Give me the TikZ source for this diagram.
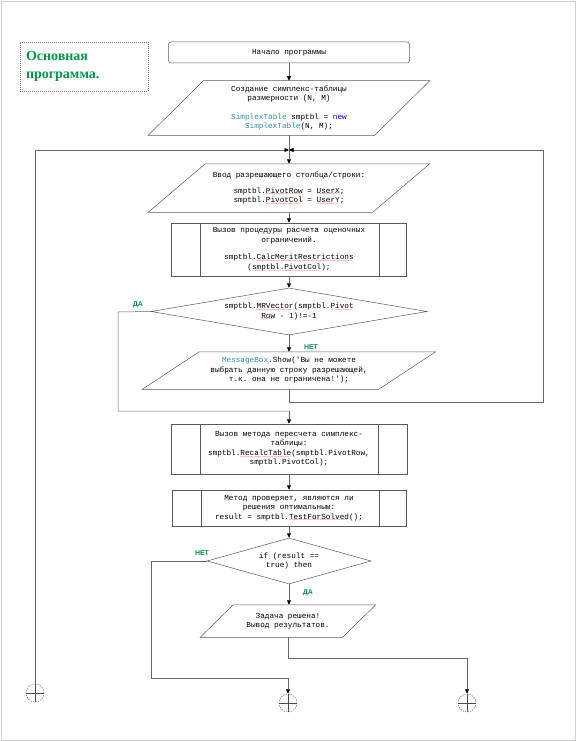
\documentclass[tikz,border=0pt]{standalone}
\usepackage{fontspec}
\setmonofont{Liberation Mono}
\newfontfamily\titlefont{Liberation Serif}
\newfontfamily\lblfont{Liberation Sans}
\usetikzlibrary{arrows.meta,shapes.geometric}
\definecolor{ttl}{RGB}{0,150,70}
\definecolor{typ}{RGB}{43,145,175}
\definecolor{kw}{RGB}{0,0,255}
\newcommand\code{\ttfamily\fontsize{7.7}{9.5}\selectfont}
\newsavebox\splbox
\newcommand\spl[1]{\sbox\splbox{#1}\rlap{\textcolor{red}{\raisebox{-2.6pt}[0pt][0pt]{\leaders\hbox{\lblfont\fontsize{4}{4}\selectfont\char126}\hskip\wd\splbox}}}\usebox\splbox}
\newcommand\slant[2]{\draw[shp] ([xshift=#2]#1.north west) -- ([xshift=#2]#1.north east) -- ([xshift=-#2]#1.south east) -- ([xshift=-#2]#1.south west) -- cycle;}

\begin{document}
\begin{tikzpicture}[x=1pt, y=-1pt, line width=0.5pt,
        >={Triangle[length=4.5pt,width=4pt,color=black]},
        shp/.style={draw=black!65},
        start/.style={shp, rounded corners=2.5pt, inner sep=0pt, font=\code, minimum width=241pt, minimum height=21pt},
        para/.style={inner sep=0pt, align=center, font=\code},
        proc/.style={shp, inner sep=0pt, align=center, font=\code},
        decide/.style={shp, diamond, inner sep=1pt, align=center, font=\code},
        conn/.style={draw=black!55, dash pattern=on 1.5pt off 1pt, circle, minimum size=18pt, inner sep=0pt},
        lbl/.style={text=ttl, font=\lblfont\bfseries\fontsize{7}{8}\selectfont, inner sep=0pt},
        wire/.style={draw=black!60}]
        \useasboundingbox (0,0) rectangle (576,741);
        \draw[black!18] (1,1) rectangle (575,740);
        \node[draw=black!55, dash pattern=on 1pt off 1pt, minimum width=128pt, minimum height=49pt, text width=116pt, align=left, inner xsep=6pt, text=ttl, font=\titlefont\bfseries\fontsize{14}{18.5}\selectfont] (title) at (84,66.5) {Основная\\программа.};
        \node[start] (start) at (289,52.5) {Начало программы};
        \node[para, minimum width=226pt, minimum height=54pt] (p1) at (289,108) {Создание симплекс-таблицы\\размерности (N, M)\\[9pt]\textcolor{typ}{SimplexTable} smptbl = \textcolor{kw}{new}\\\textcolor{typ}{SimplexTable}(N, M);};
        \slant{p1}{27.5pt}
        \coordinate (j1) at (289,150);
        \node[para, minimum width=224pt, minimum height=48pt] (p2) at (289,188) {Ввод разрешающего столбца/строки:\\[6pt]smptbl.\spl{PivotRow} = \spl{UserX};\\smptbl.\spl{PivotCol} = \spl{UserY};};
        \slant{p2}{28.5pt}
        \node[proc, minimum width=235pt, minimum height=53pt] (b1) at (289,249.5) {Вызов процедуры расчета оценочных\\ограничений.\\[8pt]smptbl.\spl{CalcMeritRestrictions}\\(\spl{smptbl.PivotCol});};
        \draw[shp] ([xshift=29pt]b1.north west) -- ([xshift=29pt]b1.south west);
        \draw[shp] ([xshift=-28pt]b1.north east) -- ([xshift=-28pt]b1.south east);
        \node[decide, aspect=5.9, minimum width=276pt, minimum height=47pt] (d1) at (289,311.5) {smptbl.\spl{MRVector}(smptbl.\spl{Pivot}\\\spl{Row} - 1)!=-1};
        \node[para, minimum width=236pt, minimum height=37pt] (p3) at (289,370.5) {\textcolor{typ}{MessageBox}.Show('Вы не можете\\выбрать данную строку разрешающей,\\т.к. она не ограничена!');};
        \slant{p3}{28.5pt}
        \coordinate (r1) at (543,402);
        \coordinate (l1) at (118,312);
        \coordinate (j2) at (289,411);
        \node[proc, minimum width=236pt, minimum height=50pt] (b2) at (289,449) {Вызов метода пересчета симплекс-\\таблицы:\\smptbl.\spl{RecalcTable}(smptbl.PivotRow,\\smptbl.PivotCol);};
        \draw[shp] ([xshift=29pt]b2.north west) -- ([xshift=29pt]b2.south west);
        \draw[shp] ([xshift=-29pt]b2.north east) -- ([xshift=-29pt]b2.south east);
        \node[proc, minimum width=234pt, minimum height=36pt] (b3) at (289,508) {Метод проверяет, являются ли\\решения оптимальным:\\result = smptbl.\spl{TestForSolved}();};
        \draw[shp] ([xshift=29pt]b3.north west) -- ([xshift=29pt]b3.south west);
        \draw[shp] ([xshift=-27pt]b3.north east) -- ([xshift=-27pt]b3.south east);
        \node[decide, aspect=3.57, minimum width=164pt, minimum height=46pt] (d2) at (289,561) {if (result ==\\true) then};
        \node[para, minimum width=142pt, minimum height=32pt] (p4) at (288,621) {Задача решена!\\Вывод результатов.};
        \slant{p4}{16.5pt}
        \coordinate (l2) at (151,561);
        \coordinate (k2) at (288,678);
        \coordinate (k3) at (467,658);
        \node[conn] (c1) at (35,693) {};
        \node[conn] (c2) at (288,703) {};
        \node[conn] (c3) at (467,703) {};
        \foreach \c in {c1,c2,c3}
            \draw[black!70] (\c.north) -- (\c.south) (\c.west) -- (\c.east);
        \node[lbl] (yes1) at (138,305) {ДА};
        \node[lbl] (no1) at (311,347) {НЕТ};
        \node[lbl] (no2) at (202,553) {НЕТ};
        \node[lbl] (yes2) at (308,593) {ДА};
        \draw[wire, ->] (start) -- (p1);
        \draw[wire, ->] (p1.south) -- (p2.north);
        \draw[wire, ->] (c1.north) |- (j1);
        \draw[wire, ->] (p3.south) |- (r1) |- (j1);
        \draw[wire, ->] (p2.south) -- (b1.north);
        \draw[wire, ->] (b1.south) -- (d1.north);
        \draw[wire] (d1.west) -- (l1) |- (j2);
        \draw[wire, ->] (d1.south) -- (p3.north);
        \draw[wire, ->] (j2) -- (b2.north);
        \draw[wire, ->] (b2.south) -- (b3.north);
        \draw[wire, ->] (b3.south) -- (d2.north);
        \draw[wire, ->] (d2.west) -- (l2) |- (k2) -- (c2.north);
        \draw[wire, ->] (d2.south) -- (d2.south |- p4.north);
        \draw[wire, ->] (p4.south) |- (k3) -- (c3.north);
\end{tikzpicture}
\end{document}
